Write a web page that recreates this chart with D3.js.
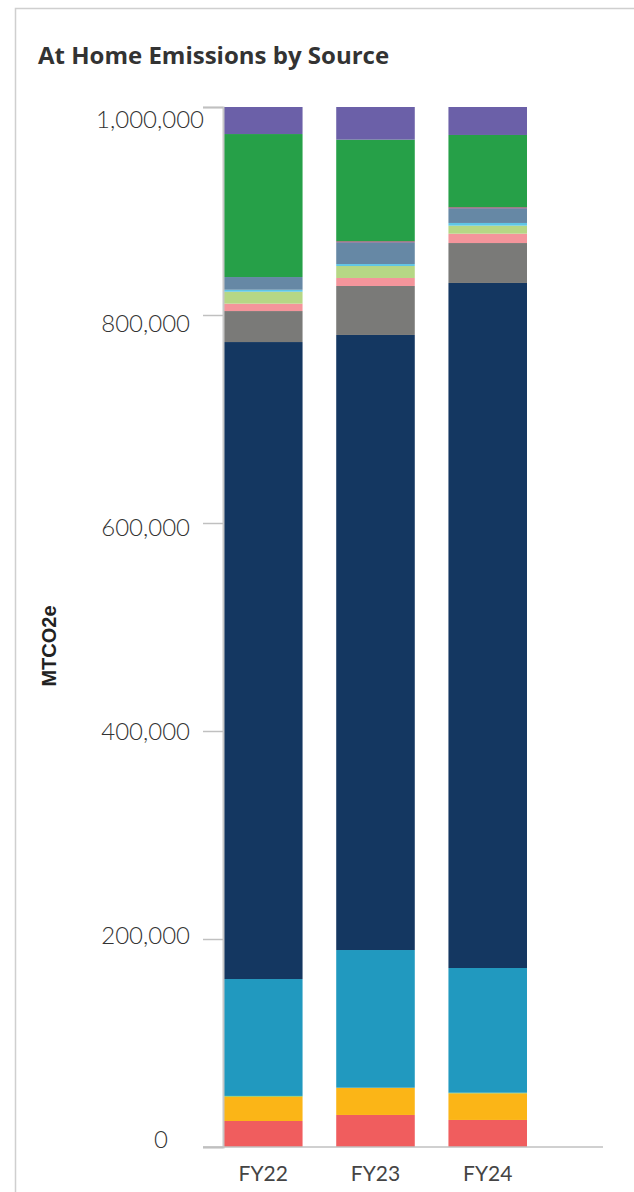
<!DOCTYPE html>
<html>
<head>
<meta charset="utf-8">
<script src="https://cdn.jsdelivr.net/npm/d3@7"></script>
<style>
  body { margin: 0; background: #fff; }
  svg { display: block; }
  .tick-label { font-family: Lato, "Open Sans", sans-serif; font-weight: 300; font-size: 24px; fill: #333; }
  .cat-label { font-family: Lato, "Open Sans", sans-serif; font-size: 21px; fill: #444; }
</style>
</head>
<body>
<svg id="chart" width="634" height="1192"></svg>
<script>
// fiscal years and sources (bottom to top in the stack)
var years = ['FY22', 'FY23', 'FY24'];
var sources = ['s01', 's02', 's03', 's04', 's05', 's06', 's07', 's08', 's09', 's10', 's11', 's12', 's13'];
var colors = ['#F05D5E', '#FBB517', '#7DC24B', '#2199BF', '#143761', '#7A7A78', '#F4959B',
              '#B6D785', '#5FC6E6', '#6688A5', '#D11F72', '#26A048', '#6B60A8'];

// MTCO2e per source, one value per year
var fy22 = [25000, 23400, 700, 112400, 612500, 29800, 7100, 11500, 1900, 12200, 0, 137500, 26000];
var fy23 = [30800, 26200, 0, 132400, 591400, 47100, 7700, 11500, 1900, 21000, 800, 97800, 31400];
var fy24 = [26000, 25600, 600, 119900, 658700, 38400, 9000, 7700, 2600, 14200, 800, 69600, 26900];

var yTicks = [0, 200000, 400000, 600000, 800000, 1000000];

var svg = d3.select('#chart');

// card outline
svg.append('path')
	.attr('d', 'M15.5,1192 V8.5 H634')
	.attr('fill', 'none')
	.attr('stroke', '#cfcfcf')
	.attr('stroke-width', 1.5);

svg.append('text')
	.attr('x', 38).attr('y', 64)
	.style('font-family', '"Open Sans", Lato, sans-serif')
	.style('font-weight', 700)
	.style('font-size', '24px')
	.style('fill', '#333')
	.text('At Home Emissions by Source');

svg.append('text')
	.attr('transform', 'translate(56,646) rotate(-90)')
	.attr('text-anchor', 'middle')
	.style('font-family', '"Liberation Sans", Arial, sans-serif')
	.style('font-weight', 700)
	.style('font-size', '20px')
	.style('fill', '#222')
	.text('MTCO2e');

// build table for the stack
var series = [fy22, fy23, fy24];
var table = years.map(function(y, i){
	var row = {year: y};
	sources.forEach(function(s, j){ row[s] = series[i][j]; });
	return row;
});
var stacked = d3.stack().keys(sources)(table);

var xScale = d3.scaleBand().domain(years).range([224, 527]).paddingInner(0.3).paddingOuter(0);
var yScale = d3.scaleLinear().domain([0, 1000000]).range([1147, 107]);
// labels in the original drift a little from the tick marks
var labelScale = d3.scaleLinear().domain([0, 1000000]).range([1139, 119]);

var layers = svg.append('g').selectAll('g').data(stacked).enter().append('g')
	.attr('fill', function(d, i){ return colors[i]; });

layers.selectAll('rect').data(function(d){ return d; }).enter().append('rect')
	.attr('x', function(d){ return xScale(d.data.year); })
	.attr('y', function(d){ return yScale(d[1]); })
	.attr('width', xScale.bandwidth())
	.attr('height', function(d){ return Math.max(0, yScale(d[0]) - yScale(d[1])); });

// y axis
var yAxis = svg.append('g')
	.attr('transform', 'translate(223,0)')
	.call(d3.axisLeft(yScale).tickValues(yTicks).tickSize(20).tickFormat(''));
yAxis.select('.domain').attr('stroke', '#c8c8c8').attr('stroke-width', 2);
yAxis.selectAll('.tick line').attr('stroke', '#c0c0c0').attr('stroke-width', 1.5);

svg.append('g').selectAll('text').data(yTicks).enter().append('text')
	.attr('class', 'tick-label')
	.attr('x', function(d){ if(d == 0) return 168; if(d == 1000000) return 204; return 190; })
	.attr('y', function(d){ return labelScale(d); })
	.attr('dy', '0.36em')
	.attr('text-anchor', 'end')
	.text(function(d){ return d3.format(',')(d); });

// x axis
svg.append('line')
	.attr('x1', 203).attr('x2', 603)
	.attr('y1', 1147).attr('y2', 1147)
	.attr('stroke', '#c0c0c0').attr('stroke-width', 1.5);

svg.append('g').selectAll('text').data(years).enter().append('text')
	.attr('class', 'cat-label')
	.attr('x', function(d){ return xScale(d) + xScale.bandwidth() / 2; })
	.attr('y', 1181)
	.attr('text-anchor', 'middle')
	.text(function(d){ return d; });
</script>
</body>
</html>
